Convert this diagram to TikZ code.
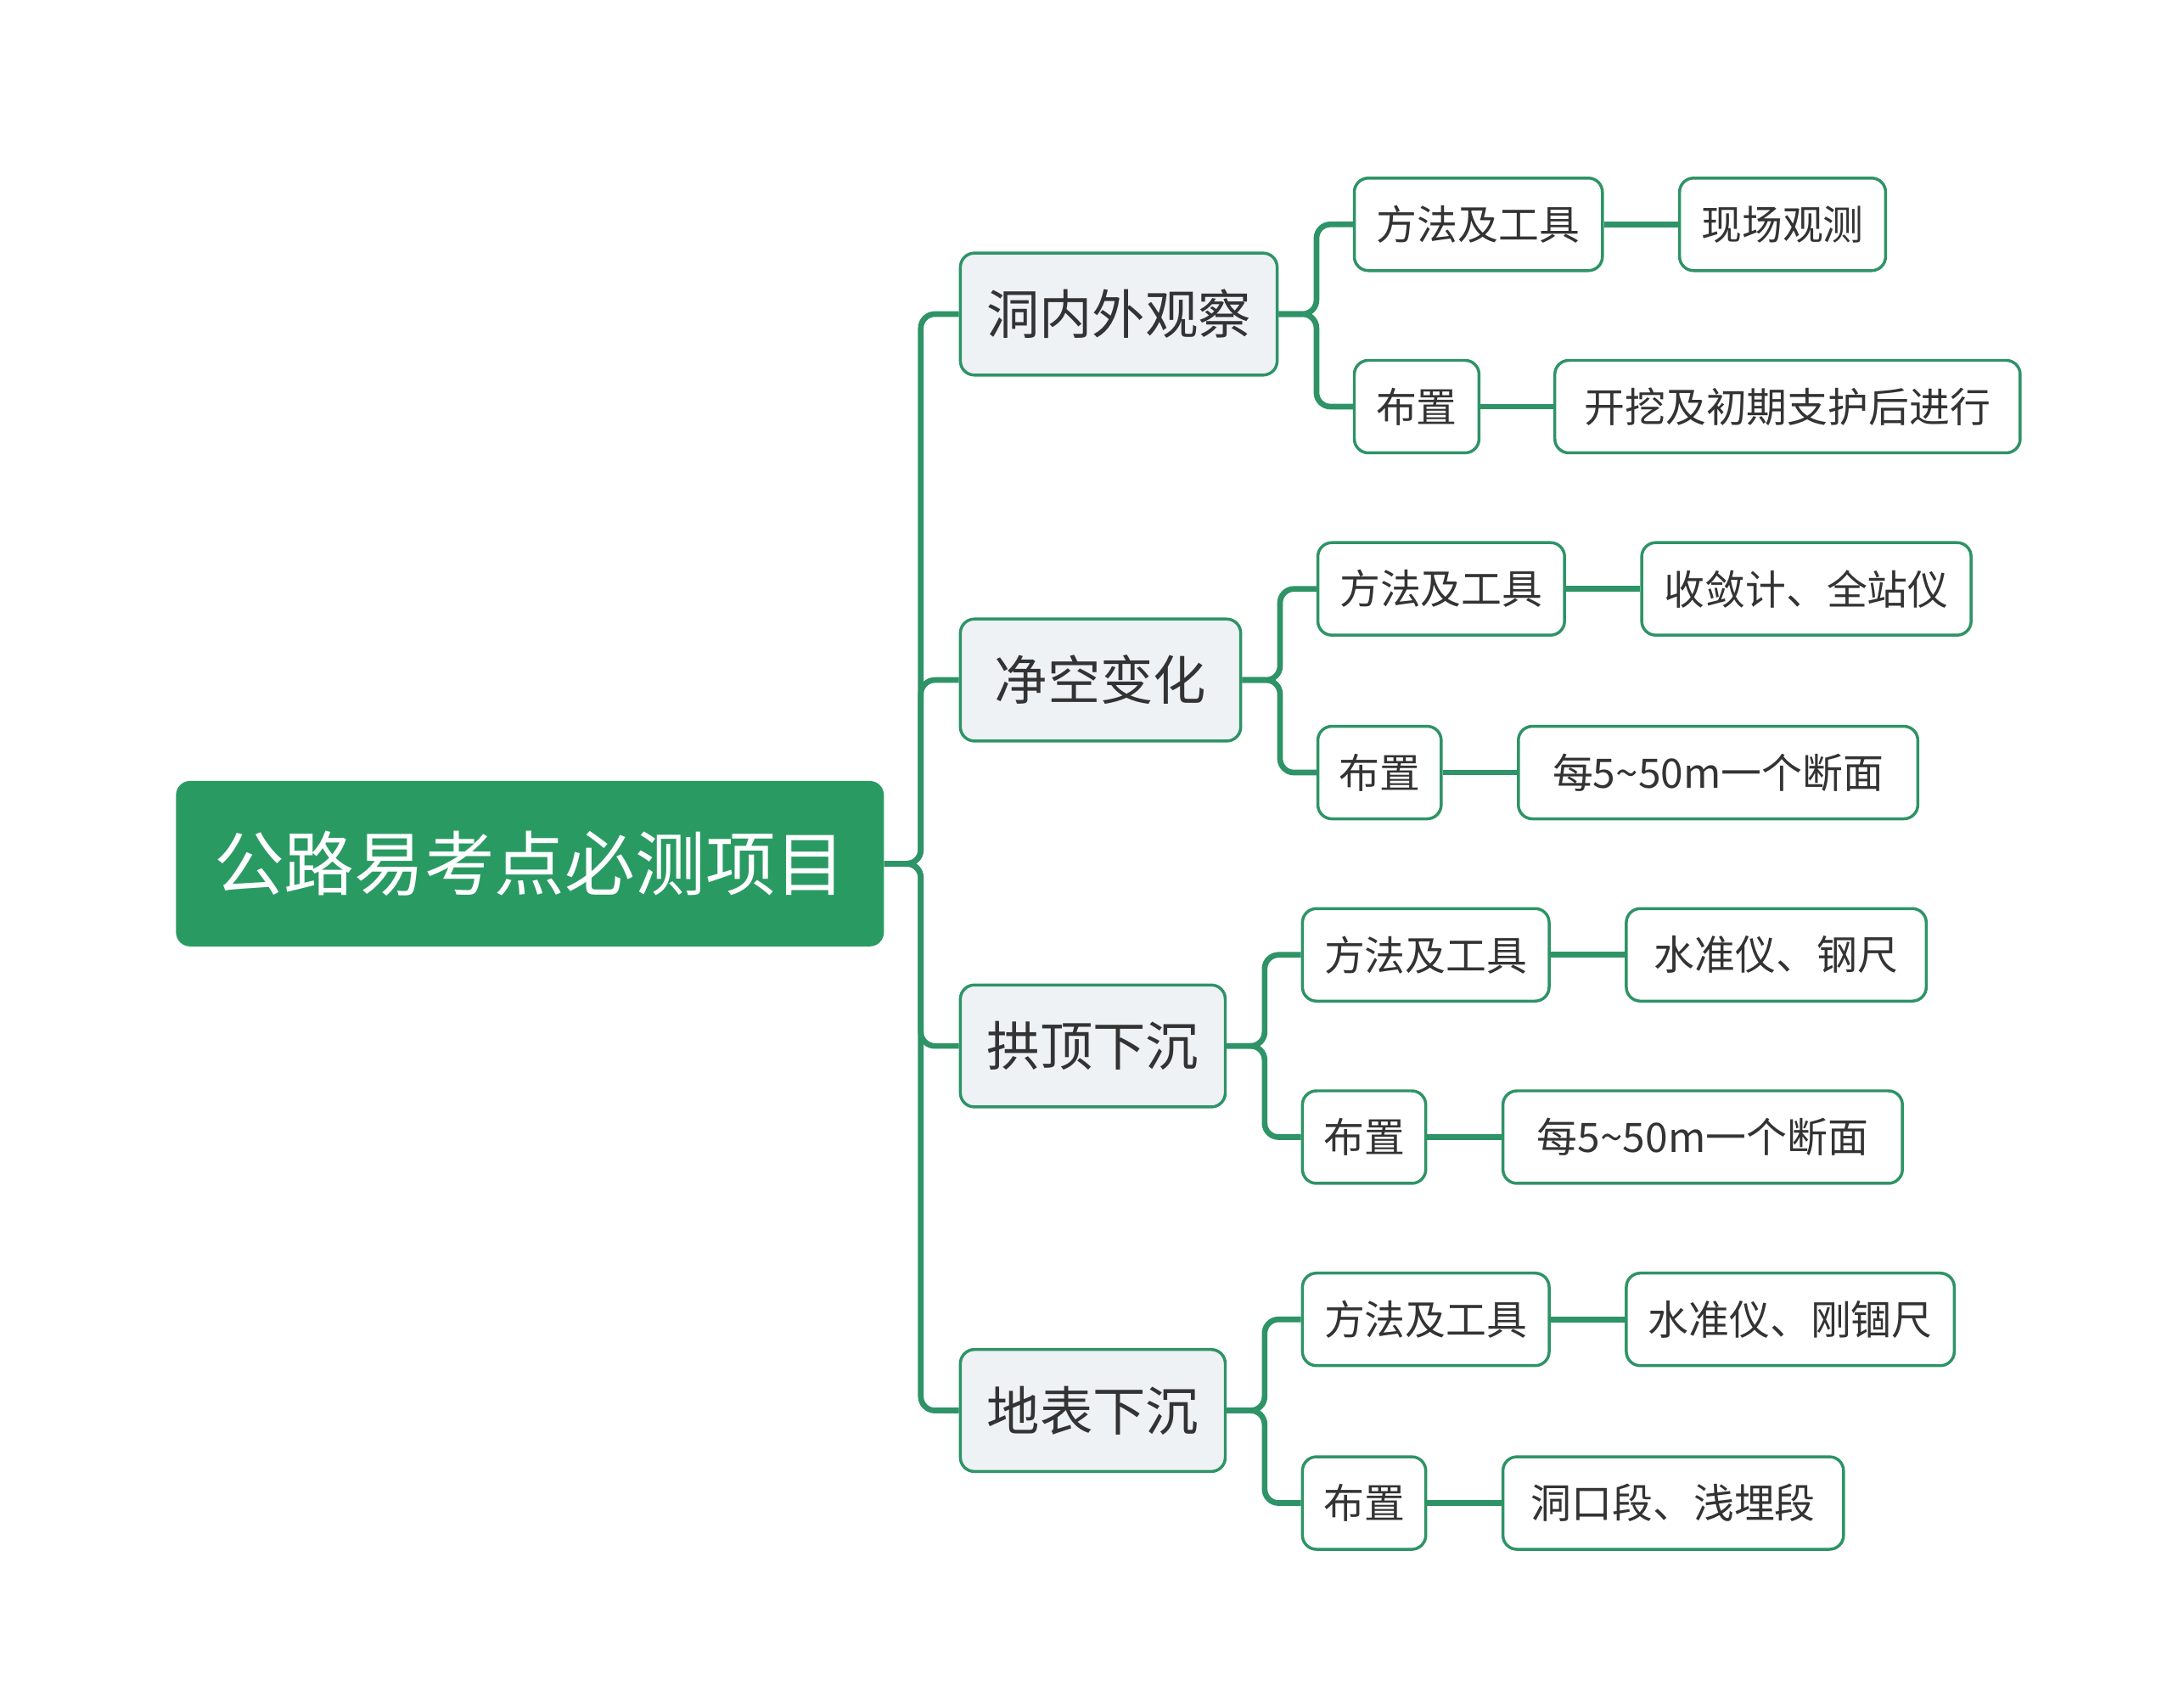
\documentclass[tikz,border=0pt]{standalone}
\usepackage{fontspec}
\setmainfont{Noto Sans CJK SC}
\usetikzlibrary{arrows.meta}
\definecolor{mapgreen}{HTML}{2A9A63}
\definecolor{mapline}{HTML}{2E9366}
\definecolor{mapgray}{HTML}{EEF2F5}
\definecolor{maptext}{HTML}{333333}
\tikzset{
  rootbox/.style={rectangle,rounded corners=0.2cm,fill=mapgreen,text=white,font=\fontsize{28.5}{30}\selectfont,minimum height=2.36cm,inner sep=0pt},
  topicbox/.style={rectangle,rounded corners=0.2cm,draw=mapline,line width=1.2pt,fill=mapgray,text=maptext,font=\fontsize{21.5}{24}\selectfont,minimum height=1.74cm,inner sep=0pt},
  leafbox/.style={rectangle,rounded corners=0.2cm,draw=mapline,line width=1.2pt,fill=white,text=maptext,font=\fontsize{16.5}{19}\selectfont,minimum height=1.32cm,inner sep=0pt},
  link/.style={draw=mapline,line width=2.3pt,rounded corners=0.2cm}
}
\begin{document}
\begin{tikzpicture}[x=0.02cm,y=-0.02cm]
    \useasboundingbox (0,0) rectangle (1550,1218);

    \node[rootbox,minimum width=10.1cm] (root) at (378,616) {公路易考点必测项目};

    \node[topicbox,minimum width=4.52cm] (t1) at (798,224)  {洞内外观察};
    \node[topicbox,minimum width=4.0cm]  (t2) at (785,485)  {净空变化};
    \node[topicbox,minimum width=3.78cm] (t3) at (779.5,746) {拱顶下沉};
    \node[topicbox,minimum width=3.78cm] (t4) at (779.5,1006) {地表下沉};

    \node[leafbox,minimum width=3.54cm] (m1) at (1054.5,160) {方法及工具};
    \node[leafbox,minimum width=2.94cm] (v1) at (1271.5,160) {现场观测};
    \node[leafbox,minimum width=1.78cm] (p1) at (1010.5,290) {布置};
    \node[leafbox,minimum width=6.64cm] (w1) at (1275,290)   {开挖及初期支护后进行};

    \node[leafbox,minimum width=3.52cm] (m2) at (1028,420)   {方法及工具};
    \node[leafbox,minimum width=4.7cm]  (v2) at (1288.5,420) {收敛计、全站仪};
    \node[leafbox,minimum width=1.76cm] (p2) at (984,551)    {布置};
    \node[leafbox,minimum width=5.7cm]  (w2) at (1225.5,551) {每5\textasciitilde50m一个断面};

    \node[leafbox,minimum width=3.52cm] (m3) at (1017,681)   {方法及工具};
    \node[leafbox,minimum width=4.28cm] (v3) at (1267,681)   {水准仪、钢尺};
    \node[leafbox,minimum width=1.76cm] (p3) at (973,811)    {布置};
    \node[leafbox,minimum width=5.7cm]  (w3) at (1214.5,811) {每5\textasciitilde50m一个断面};

    \node[leafbox,minimum width=3.52cm] (m4) at (1017,941)   {方法及工具};
    \node[leafbox,minimum width=4.68cm] (v4) at (1277,941)   {水准仪、刚锢尺};
    \node[leafbox,minimum width=1.76cm] (p4) at (973,1072)   {布置};
    \node[leafbox,minimum width=4.86cm] (w4) at (1193.5,1072) {洞口段、浅埋段};

    % trunk from the root
    \foreach \t in {t1,t2,t3,t4}
        \draw[link] (root.east) -- ++(26,0) |- (\t.west);

    % topics to leaves
    \foreach \t/\m/\p in {t1/m1/p1,t2/m2/p2,t3/m3/p3,t4/m4/p4} {
        \draw[link] (\t.east) -- ++(27,0) |- (\m.west);
        \draw[link] (\t.east) -- ++(27,0) |- (\p.west);
    }

    \foreach \a/\b in {m1/v1,p1/w1,m2/v2,p2/w2,m3/v3,p3/w3,m4/v4,p4/w4}
        \draw[link] (\a.east) -- (\b.west);
\end{tikzpicture}
\end{document}
